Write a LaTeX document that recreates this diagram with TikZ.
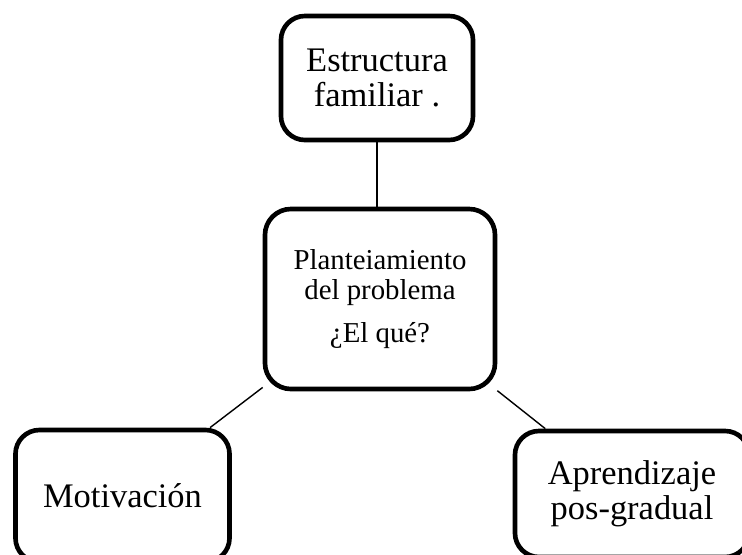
\documentclass[tikz,border=0pt]{standalone}
\usepackage{fontspec}
\setmainfont{Liberation Serif}

\begin{document}
\begin{tikzpicture}[x=0.025cm, y=-0.025cm,
        box/.style={draw, line width=3.3pt, rounded corners=0.6cm, align=center, inner sep=0pt},
        big/.style={font=\fontsize{24.5}{25}\selectfont},
        small/.style={font=\fontsize{20.5}{21.3}\selectfont}]
            \useasboundingbox (0, 0) rectangle (742, 554);
            \clip (0, 0) rectangle (742, 554);

            \node (E) [box, big, minimum width=4.8cm, minimum height=3.1cm] at (377, 78) {Estructura\\familiar .};
            \node (P) [box, small, rounded corners=0.65cm, minimum width=5.75cm, minimum height=4.5cm] at (380, 299) {Planteiamiento\\del problema\\[8.7pt]¿El qué?};
            \node (M) [box, big, minimum width=5.35cm, minimum height=3.3cm] at (122.5, 496) {Motivación};
            \node (A) [box, big, minimum width=5.85cm, minimum height=3.15cm] at (632, 494) {Aprendizaje\\pos-gradual};

            \draw [line width=1pt] (E.south) -- (E.south |- P.north);
            \draw [line width=1pt] (P.-143) -- (M.38);
            \draw [line width=1pt] (P.-38) -- (A.143);
        \end{tikzpicture}
\end{document}
